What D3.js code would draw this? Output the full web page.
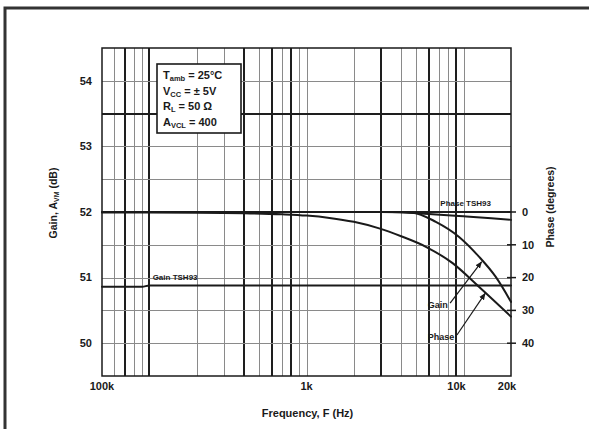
<!DOCTYPE html>
<meta charset="utf-8">
<style>

body {
  margin: 0;
  background: #fff;
}

text {
  font-family: "Liberation Sans", Arial, sans-serif;
  font-weight: bold;
  fill: #1a1a1a;
}

.grid line {
  shape-rendering: crispEdges;
}

.curve {
  fill: none;
  stroke: #1a1a1a;
  stroke-linejoin: round;
  stroke-linecap: round;
}

</style>

<svg width="589" height="429"></svg>

<script src="https://d3js.org/d3.v7.min.js"></script>
<script>

// vertical grid (Hz) -- heavy and light lines as printed
var xGridThin = [6e4, 8e4, 9e4, 2e5, 3e5, 5e5, 7e5, 9e5, 1e6, 2e6, 4e6, 5e6, 7e6, 8e6, 1e7];
var xGridThick = [7e4, 1e5, 4e5, 6e5, 8e5, 3e6, 6e6, 9e6];
var xTickVals = [5e4, 1e6, 9e6, 2e7];
var xTickLabels = ["100k", "1k", "10k", "20k"];

// gain axis (dB)
var gainGrid = [50, 50.5, 51, 51.5, 52, 52.5, 53, 53.5, 54];
var gainGridThick = [52, 53.5];
var gainTicks = [50, 51, 52, 53, 54];

// phase axis (degrees)
var phaseTicks = [0, 10, 20, 30, 40];

// measured gain
var gainFreq = [3e6, 4.7e6, 6.65e6, 9.35e6, 1.25e7, 1.6e7, 2e7];
var gainDb = [52.0, 51.99, 51.85, 51.62, 51.32, 51.01, 50.63];

// measured phase
var phaseFreq = [5e4, 2e5, 4e5, 7e5, 1e6, 1.4e6, 2e6, 2.9e6, 4e6, 5.75e6, 8.5e6, 1.25e7, 2e7];
var phaseDeg = [0.15, 0.2, 0.35, 0.7, 1.1, 1.8, 3.0, 5.0, 7.4, 10.6, 15.6, 22.8, 31.9];

// TSH93 reference curves
var gain93Freq = [5e4, 9e4, 1e5, 1e6, 1e7, 2e7];
var gain93Db = [50.86, 50.86, 50.88, 50.88, 50.88, 50.88];
var phase93Freq = [5e4, 3.5e6, 6e6, 1e7, 1.5e7, 2e7];
var phase93Deg = [0, 0, 0.6, 1.3, 1.9, 2.4];

var conditions = [
  ["T", "amb", " = 25°C"],
  ["V", "CC", " = ± 5V"],
  ["R", "L", " = 50 Ω"],
  ["A", "VCL", " = 400"]
];

var svg = d3.select("svg"),
    width = +svg.attr("width"),
    height = +svg.attr("height");

var margin = {top: 48, right: 78, bottom: 53, left: 102};
var x0 = margin.left, x1 = width - margin.right,
    y0 = margin.top, y1 = height - margin.bottom;

var x = d3.scaleLog().domain([5e4, 2e7]).range([x0, x1]);
var yGain = d3.scaleLinear().domain([49.5, 54.5]).range([y1, y0]);
var yPhase = d3.scaleLinear().domain([-50, 50]).range([y0, y1]);

// outer frame
svg.append("rect")
    .attr("x", 5).attr("y", 8)
    .attr("width", width + 20).attr("height", height + 20)
    .attr("fill", "none")
    .attr("stroke", "#333")
    .attr("stroke-width", 3);

var grid = svg.append("g").attr("class", "grid");

grid.selectAll(".vthin")
  .data(xGridThin)
  .enter().append("line")
    .attr("x1", d => Math.round(x(d)) + 0.5).attr("x2", d => Math.round(x(d)) + 0.5)
    .attr("y1", y0).attr("y2", y1)
    .attr("stroke", "#8a8a8a").attr("stroke-width", 1);

grid.selectAll(".vthick")
  .data(xGridThick)
  .enter().append("line")
    .attr("x1", d => Math.round(x(d))).attr("x2", d => Math.round(x(d)))
    .attr("y1", y0).attr("y2", y1)
    .attr("stroke", "#1e1e1e").attr("stroke-width", 2);

grid.selectAll(".h")
  .data(gainGrid)
  .enter().append("line")
    .attr("x1", x0).attr("x2", x1)
    .attr("y1", d => Math.round(yGain(d)) + (gainGridThick.includes(d) ? 0 : 0.5))
    .attr("y2", d => Math.round(yGain(d)) + (gainGridThick.includes(d) ? 0 : 0.5))
    .attr("stroke", d => gainGridThick.includes(d) ? "#1e1e1e" : "#8a8a8a")
    .attr("stroke-width", d => gainGridThick.includes(d) ? 2 : 1);

// plot border
svg.append("rect")
    .attr("x", x0).attr("y", y0)
    .attr("width", x1 - x0).attr("height", y1 - y0)
    .attr("fill", "none")
    .attr("stroke", "#1a1a1a")
    .attr("stroke-width", 1.5);

// x tick labels
svg.append("g").selectAll("text")
  .data(xTickVals)
  .enter().append("text")
    .attr("x", (d, i) => x(d) - (i == 3 ? 4 : 0))
    .attr("y", y1 + 14)
    .attr("text-anchor", "middle")
    .attr("font-size", 11)
    .text((d, i) => xTickLabels[i]);

// gain tick labels (left)
svg.append("g").selectAll("text")
  .data(gainTicks)
  .enter().append("text")
    .attr("x", x0 - 10)
    .attr("y", d => yGain(d))
    .attr("dy", "0.35em")
    .attr("text-anchor", "end")
    .attr("font-size", 11)
    .text(d => d);

// phase axis (right)
var right = svg.append("g");
right.selectAll("line")
  .data(phaseTicks)
  .enter().append("line")
    .attr("x1", x1 - 4).attr("x2", x1 + 5)
    .attr("y1", d => yPhase(d)).attr("y2", d => yPhase(d))
    .attr("stroke", "#1a1a1a").attr("stroke-width", 1.5);
right.selectAll("text")
  .data(phaseTicks)
  .enter().append("text")
    .attr("x", x1 + 11)
    .attr("y", d => yPhase(d))
    .attr("dy", "0.35em")
    .attr("font-size", 11)
    .text(d => d);

// axis titles
svg.append("text")
    .attr("transform", "translate(" + ((x0 + x1) / 2 + 1) + "," + (y1 + 41) + ")")
    .attr("text-anchor", "middle")
    .attr("font-size", 11)
    .text("Frequency, F (Hz)");

var yt = svg.append("text")
    .attr("transform", "translate(57,203) rotate(-90)")
    .attr("text-anchor", "middle")
    .attr("font-size", 10.5);
yt.append("tspan").text("Gain, A");
yt.append("tspan").attr("font-size", 7).attr("dy", 2).text("VM");
yt.append("tspan").attr("dy", -2).text(" (dB)");

svg.append("text")
    .attr("transform", "translate(554,207) rotate(-90)")
    .attr("text-anchor", "middle")
    .attr("font-size", 10.5)
    .text("Phase (degrees)");

// curves
var lineGain = d3.line().x(d => x(d[0])).y(d => yGain(d[1])).curve(d3.curveMonotoneX);
var linePhase = d3.line().x(d => x(d[0])).y(d => yPhase(d[1])).curve(d3.curveMonotoneX);

svg.append("path")
    .attr("class", "curve")
    .attr("stroke-width", 2)
    .attr("d", lineGain(d3.zip(gain93Freq, gain93Db)));

svg.append("path")
    .attr("class", "curve")
    .attr("stroke-width", 2)
    .attr("d", linePhase(d3.zip(phase93Freq, phase93Deg)));

svg.append("path")
    .attr("class", "curve")
    .attr("stroke-width", 2)
    .attr("d", linePhase(d3.zip(phaseFreq, phaseDeg)));

svg.append("path")
    .attr("class", "curve")
    .attr("stroke-width", 2)
    .attr("d", lineGain(d3.zip(gainFreq, gainDb)));

// curve labels
svg.append("text")
    .attr("x", x(1.05e5)).attr("y", yGain(50.96))
    .attr("font-size", 8)
    .text("Gain TSH93");

svg.append("text")
    .attr("x", x(7.1e6)).attr("y", yPhase(-1.8))
    .attr("font-size", 8)
    .text("Phase TSH93");

svg.append("text")
    .attr("x", x(5.9e6)).attr("y", yGain(50.54))
    .attr("font-size", 9)
    .text("Gain");

svg.append("text")
    .attr("x", x(5.9e6)).attr("y", yPhase(39))
    .attr("font-size", 9)
    .text("Phase");

// arrows
svg.append("defs").append("marker")
    .attr("id", "head")
    .attr("viewBox", "0 0 10 10")
    .attr("refX", 9).attr("refY", 5)
    .attr("markerWidth", 7).attr("markerHeight", 7)
    .attr("markerUnits", "userSpaceOnUse")
    .attr("orient", "auto")
  .append("path")
    .attr("d", "M0,1L10,5L0,9z")
    .attr("fill", "#1a1a1a");

svg.append("line")
    .attr("x1", x(8.2e6)).attr("y1", yGain(50.61))
    .attr("x2", x(1.3e7)).attr("y2", yGain(51.24))
    .attr("stroke", "#1a1a1a").attr("stroke-width", 1.2)
    .attr("marker-end", "url(#head)");

svg.append("line")
    .attr("x1", x(9.06e6)).attr("y1", yPhase(37.5))
    .attr("x2", x(1.37e7)).attr("y2", yPhase(24.8))
    .attr("stroke", "#1a1a1a").attr("stroke-width", 1.2)
    .attr("marker-end", "url(#head)");

// conditions box
var box = svg.append("g").attr("transform", "translate(157,64)");
box.append("rect")
    .attr("width", 84).attr("height", 69)
    .attr("fill", "#fff")
    .attr("stroke", "#1a1a1a")
    .attr("stroke-width", 1.6);

box.selectAll("text")
  .data(conditions)
  .enter().append("text")
    .attr("x", 6)
    .attr("y", (d, i) => 15 + i * 15.5)
    .attr("font-size", 11)
    .each(function(d) {
      var t = d3.select(this);
      t.append("tspan").text(d[0]);
      t.append("tspan").attr("font-size", 7.5).attr("dy", 2).text(d[1]);
      t.append("tspan").attr("dy", -2).text(d[2]);
    });

</script>
